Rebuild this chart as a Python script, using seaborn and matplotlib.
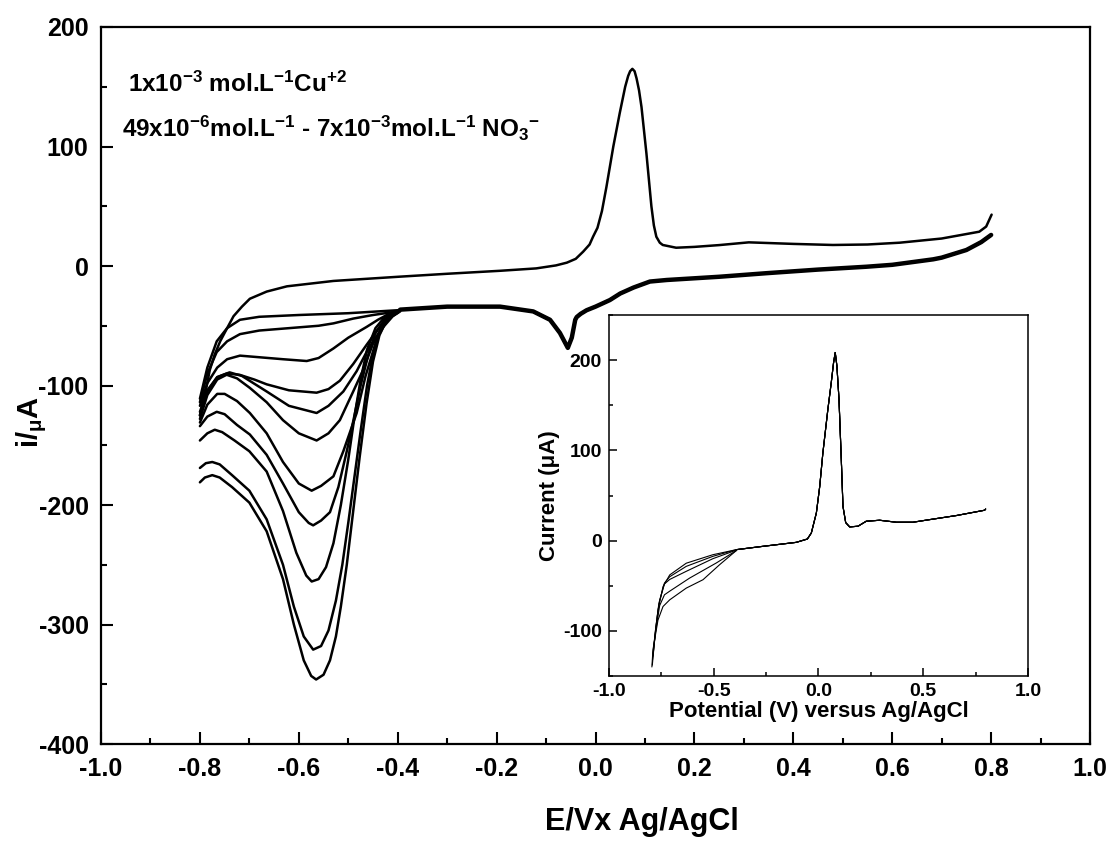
import numpy as np
import matplotlib
matplotlib.use("Agg")
import matplotlib.pyplot as plt
from matplotlib.ticker import MultipleLocator, FormatStrFormatter
import seaborn as sns

# --- data ---
# forward (anodic) sweep, E in V, i in uA
anodic_E = [-0.800, -0.790, -0.780, -0.770, -0.759, -0.745, -0.732, -0.715, -0.699, -0.665,
            -0.624, -0.530, -0.395, -0.300, -0.193, -0.120, -0.080, -0.058, -0.040, -0.025,
            -0.012, -0.005, 0.004, 0.013, 0.022, 0.036, 0.049, 0.060, 0.066, 0.070,
            0.0745, 0.079, 0.083, 0.088, 0.093, 0.103, 0.113, 0.118, 0.123, 0.130,
            0.136, 0.163, 0.200, 0.250, 0.310, 0.400, 0.480, 0.550, 0.615, 0.700,
            0.776, 0.790, 0.801]
anodic_i = [-125, -108, -87, -74, -63, -52, -42, -34, -27.4, -21.4,
            -17, -12.5, -8.9, -6.5, -4, -2, 0.5, 2.8, 6, 12,
            18, 24.5, 32, 46, 66, 100, 128, 150, 159, 163,
            165, 163, 157, 147, 133, 94, 50, 34, 24.5, 19.5,
            17.6, 15.3, 16, 17.5, 19.8, 18.5, 17.6, 18, 19.5, 23,
            28.7, 33, 43]

# reverse sweep, common part from 0.8 V down to -0.4 V
back_E = [0.800, 0.780, 0.750, 0.700, 0.683, 0.600, 0.548, 0.450, 0.346, 0.250,
          0.144, 0.110, 0.077, 0.050, 0.029, 0.000, -0.018, -0.030, -0.038, -0.041,
          -0.048, -0.056, -0.072, -0.092, -0.126, -0.193, -0.300, -0.395]
back_i = [26, 20, 13.4, 7, 5.6, 1, -0.6, -3, -6, -9,
          -11.7, -13, -18, -23, -28.5, -34, -37, -40, -42.7, -45,
          -60, -68.5, -56, -45, -38, -34, -34, -36.5]

# reverse sweep, cathodic branches (-0.4 V to -0.8 V), one per NO3- level
cath_E = {
    "a": [-0.400, -0.500, -0.600, -0.680, -0.719, -0.745, -0.766, -0.785, -0.800],
    "b": [-0.400, -0.450, -0.490, -0.530, -0.560, -0.620, -0.680, -0.719, -0.745, -0.766, -0.785, -0.800],
    "c": [-0.400, -0.422, -0.440, -0.463, -0.500, -0.530, -0.560, -0.584, -0.632, -0.690,
          -0.719, -0.745, -0.765, -0.785, -0.800],
    "d": [-0.400, -0.422, -0.440, -0.463, -0.490, -0.517, -0.540, -0.564, -0.620, -0.665,
          -0.690, -0.720, -0.746, -0.765, -0.785, -0.800],
    "e": [-0.400, -0.422, -0.440, -0.463, -0.483, -0.510, -0.540, -0.564, -0.620, -0.665,
          -0.715, -0.740, -0.765, -0.785, -0.800],
    "f": [-0.395, -0.410, -0.429, -0.450, -0.470, -0.490, -0.517, -0.540, -0.564, -0.600,
          -0.632, -0.665, -0.699, -0.725, -0.746, -0.765, -0.785, -0.800],
    "g": [-0.400, -0.425, -0.443, -0.465, -0.483, -0.510, -0.530, -0.555, -0.574, -0.600,
          -0.632, -0.665, -0.699, -0.725, -0.750, -0.765, -0.785, -0.800],
    "h": [-0.400, -0.425, -0.445, -0.460, -0.475, -0.490, -0.503, -0.520, -0.537, -0.555,
          -0.571, -0.580, -0.600, -0.632, -0.665, -0.699, -0.725, -0.750, -0.766, -0.785, -0.800],
    "i": [-0.400, -0.425, -0.445, -0.462, -0.475, -0.487, -0.500, -0.515, -0.530, -0.545,
          -0.560, -0.574, -0.585, -0.605, -0.632, -0.665, -0.700, -0.730, -0.755, -0.770,
          -0.785, -0.800],
    "j": [-0.400, -0.420, -0.435, -0.449, -0.462, -0.475, -0.487, -0.500, -0.512, -0.525,
          -0.540, -0.555, -0.571, -0.590, -0.610, -0.632, -0.665, -0.700, -0.735, -0.760,
          -0.775, -0.788, -0.800],
    "k": [-0.395, -0.405, -0.422, -0.437, -0.450, -0.463, -0.477, -0.490, -0.503, -0.515,
          -0.525, -0.537, -0.550, -0.565, -0.575, -0.590, -0.610, -0.632, -0.665, -0.700,
          -0.735, -0.760, -0.775, -0.790, -0.800],
}
cath_i = {
    "a": [-37, -39.5, -41, -42.5, -45, -52, -63, -85, -111],
    "b": [-38, -41, -44, -48, -50, -52, -54, -57, -63, -72, -90, -114],
    "c": [-38, -41, -45, -51, -60, -69, -77, -79.5, -78, -76,
          -75, -78, -85, -98, -117],
    "d": [-39, -44, -53, -66, -82, -96, -103, -106, -104, -99,
          -95, -91, -90, -93, -104, -122],
    "e": [-39, -45, -57, -72, -88, -105, -117, -123, -117, -105,
          -92, -89, -93, -105, -125],
    "f": [-38, -42, -51, -65, -87, -105, -129, -140, -146, -140,
          -129, -114, -102, -94, -91, -95, -108, -128],
    "g": [-38, -47, -62, -92, -123, -155, -176, -184, -188, -182,
          -164, -140, -123, -113, -107, -107, -116, -131],
    "h": [-38, -44, -56, -75, -100, -130, -155, -185, -206, -213,
          -217, -215, -206, -182, -158, -141, -133, -124, -122, -126, -134],
    "i": [-38, -42, -52, -70, -95, -125, -162, -200, -232, -252,
          -262, -264, -259, -240, -205, -172, -155, -146, -139, -137,
          -140, -146],
    "j": [-38, -43, -53, -72, -100, -138, -175, -215, -250, -280,
          -305, -318, -321, -310, -285, -250, -212, -188, -175, -166,
          -164, -165, -169],
    "k": [-37, -39, -45, -58, -80, -115, -160, -205, -250, -285,
          -310, -330, -342, -346, -343, -330, -300, -262, -222, -198,
          -185, -177, -175, -177, -181],
}

# inset: repeated cycles
inset_E = [-0.392, -0.265, -0.106, -0.053, -0.034, -0.010, 0.006, 0.021, 0.045, 0.061,
           0.072, 0.080, 0.088, 0.098, 0.109, 0.117, 0.130, 0.149, 0.189, 0.228,
           0.292, 0.372, 0.451, 0.531, 0.658, 0.793, 0.798]
inset_i = [-10, -6.3, -1.9, 1.8, 8.5, 30.7, 60, 97, 145.6, 175,
           197, 208.5, 193.7, 156.7, 90, 38, 20, 15.2, 16, 21.5,
           22.6, 20.4, 20.4, 23.3, 27.8, 33.7, 35]
inset_low_E = [
    [-0.793, -0.782, -0.766, -0.742, -0.710, -0.631, -0.504, -0.392],
    [-0.790, -0.778, -0.762, -0.735, -0.710, -0.631, -0.504, -0.392],
    [-0.790, -0.776, -0.758, -0.735, -0.710, -0.631, -0.504, -0.392],
    [-0.792, -0.778, -0.758, -0.735, -0.710, -0.615, -0.488, -0.392],
    [-0.795, -0.790, -0.766, -0.742, -0.710, -0.631, -0.551, -0.472, -0.392],
]
inset_low_i = [
    [-138, -110, -77, -51, -38, -25, -15.6, -10],
    [-128, -100, -70, -47, -40, -28.5, -17.4, -10],
    [-125, -95, -66, -48, -43, -34, -20, -10.5],
    [-132, -102, -72, -60, -56, -41.5, -24.8, -11],
    [-140, -121, -88, -73, -65.6, -52.6, -43.3, -26.7, -11],
]

sns.set_theme(style="ticks")
plt.rcParams['font.family'] = ['Liberation Sans', 'DejaVu Sans']
plt.rcParams['font.weight'] = 'bold'
plt.rcParams['axes.unicode_minus'] = False
plt.rcParams['text.color'] = 'black'
plt.rcParams['axes.labelcolor'] = 'black'
plt.rcParams['xtick.color'] = 'black'
plt.rcParams['ytick.color'] = 'black'
plt.rcParams['mathtext.fontset'] = 'custom'
plt.rcParams['mathtext.rm'] = 'Liberation Sans:bold'
plt.rcParams['mathtext.it'] = 'Liberation Sans:bold'
plt.rcParams['mathtext.bf'] = 'Liberation Sans:bold'
plt.rcParams['mathtext.sf'] = 'Liberation Sans:bold'

fig = plt.figure(figsize=(11.1, 8.41), dpi=100)
ax = fig.add_axes([0.091, 0.1153, 0.891, 0.8526])

LW = 1.8
sns.lineplot(x=anodic_E, y=anodic_i, sort=False, estimator=None, color='black', lw=LW, ax=ax)
for key in cath_E:
    xs = back_E + cath_E[key]
    ys = back_i + cath_i[key]
    sns.lineplot(x=xs, y=ys, sort=False, estimator=None, color='black', lw=LW, ax=ax)
# overlapping reverse scans make the common part look thicker
sns.lineplot(x=back_E, y=back_i, sort=False, estimator=None, color='black', lw=3.2, ax=ax)

ax.set_xlim(-1.0, 1.0)
ax.set_ylim(-400, 200)
ax.xaxis.set_major_locator(MultipleLocator(0.2))
ax.xaxis.set_minor_locator(MultipleLocator(0.1))
ax.yaxis.set_major_locator(MultipleLocator(100))
ax.yaxis.set_minor_locator(MultipleLocator(50))
ax.xaxis.set_major_formatter(FormatStrFormatter('%.1f'))
ax.tick_params(which='both', direction='in', top=False, right=False, width=1.5, labelsize=18,
               colors='black')
ax.tick_params(which='major', length=8.5, pad=9)
ax.tick_params(which='minor', length=4.5)
for lab in ax.get_xticklabels() + ax.get_yticklabels():
    lab.set_fontweight('bold')
for sp in ax.spines.values():
    sp.set_linewidth(1.6)
    sp.set_color('black')

ax.set_xlabel("E/Vx Ag/AgCl", fontsize=22, fontweight='bold', color='black')
ax.xaxis.set_label_coords(0.547, -0.109)
ax.xaxis.label.set_va('center')
ax.set_ylabel(r"i/$_{\mu}$A", fontsize=21, fontweight='bold', color='black')
ax.yaxis.set_label_coords(-0.070, 0.449)
ax.yaxis.label.set_va('center')

ax.text(-0.945, 146, r"1x10$^{-3}$ mol.L$^{-1}$Cu$^{+2}$", fontsize=17.5, fontweight='bold',
        va='baseline', color='black')
ax.text(-0.958, 108, r"49x10$^{-6}$mol.L$^{-1}$ - 7x10$^{-3}$mol.L$^{-1}$ NO$_3$$^{-}$",
        fontsize=17.5, fontweight='bold', va='baseline', color='black')

# inset
ins = fig.add_axes([0.5486, 0.1962, 0.3775, 0.4292])
for xs_low, ys_low in zip(inset_low_E, inset_low_i):
    sns.lineplot(x=xs_low + inset_E, y=ys_low + inset_i, sort=False, estimator=None,
                 color='black', lw=0.8, ax=ins)
ins.set_xlim(-1.0, 1.0)
ins.set_ylim(-150, 250)
ins.xaxis.set_major_locator(MultipleLocator(0.5))
ins.xaxis.set_minor_locator(MultipleLocator(0.25))
ins.yaxis.set_major_locator(MultipleLocator(100))
ins.yaxis.set_minor_locator(MultipleLocator(50))
ins.xaxis.set_major_formatter(FormatStrFormatter('%.1f'))
ins.tick_params(which='both', direction='in', top=False, right=False, width=1.1, labelsize=14,
                colors='black')
ins.tick_params(which='major', length=6, pad=5)
ins.tick_params(which='minor', length=3)
for lab in ins.get_xticklabels() + ins.get_yticklabels():
    lab.set_fontweight('bold')
for sp in ins.spines.values():
    sp.set_linewidth(1.1)
    sp.set_color('black')
ins.set_xlabel("Potential (V) versus Ag/AgCl", fontsize=16, fontweight='bold', labelpad=1,
               color='black')
ins.set_ylabel("Current (μA)", fontsize=16, fontweight='bold', labelpad=2, color='black')

fig.savefig("out.png", dpi=100, facecolor='white')
